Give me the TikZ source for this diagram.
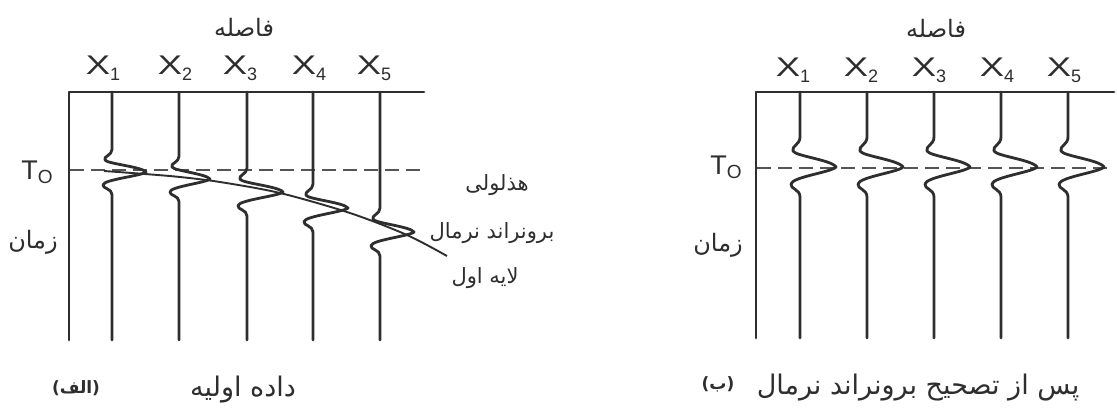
\documentclass[tikz,border=0pt]{standalone}
\usepackage{graphicx}
\usepackage{fontspec}
\setmainfont{Liberation Sans}
\newfontfamily\fa[Script=Arabic]{DejaVu Sans}
\TeXXeTstate=1
\definecolor{ink}{HTML}{2E2E2E}
\definecolor{dashc}{HTML}{555555}
\newcommand\wtrace[6]{% x0, top, bottom, t, amp, vscale
\draw[trace] (#1,#2) -- (#1,#4-30*#6) .. controls (#1,#4-22*#6) and (#1-9,#4-21*#6) .. (#1-7,#4-16*#6)
 .. controls (#1-5,#4-11*#6) and (#1+#5-4,#4-7*#6) .. (#1+#5,#4)
 .. controls (#1+#5-4,#4+5*#6) and (#1-8,#4+10*#6) .. (#1-9,#4+17*#6)
 .. controls (#1-10,#4+22*#6) and (#1,#4+22*#6) .. (#1,#4+30*#6) -- (#1,#3);}
\newcommand\xl[1]{\scalebox{1.35}[1]{\fontsize{27}{27}\selectfont X}\raisebox{-1.2ex}{\fontsize{18}{18}\selectfont #1}}
\newcommand\tlab{\fontsize{27}{27}\selectfont T\raisebox{-0.3ex}{\fontsize{19}{19}\selectfont O}}
\newcommand\fs[1]{\fa\fontsize{#1}{#1}\selectfont}
\begin{document}
\begin{tikzpicture}[x=1pt,y=-1pt,
  trace/.style={draw=ink,line width=2.8pt,line join=round,line cap=round},
  dline/.style={draw=dashc,line width=1.5pt,dash pattern=on 14pt off 7pt},
  hyp/.style={draw=ink,line width=1.9pt},
  lab/.style={inner sep=0pt,text=ink}]
\useasboundingbox (0,0) rectangle (1118,415);
\fill[white] (0,0) rectangle (1118,415);
% ---------- left panel ----------
\draw[dline] (70,170) -- (427,170);
\draw[trace] (69,340) -- (69,92) -- (424,92);
\wtrace{112}{92}{340}{172}{34}{0.75}
\wtrace{179}{92}{340}{179}{31}{0.75}
\wtrace{247}{92}{340}{192}{36}{0.8}
\wtrace{313}{92}{340}{208}{35}{0.8}
\wtrace{380}{92}{340}{232}{34}{0.8}
\draw[hyp] plot[smooth] coordinates {(104,171) (145,174) (180,177) (220,182) (280,193) (350,213) (407,235) (447,256)};
\node[lab] (lx1) at (103,68) {\xl{1}};
\node[lab] (lx2) at (175,68) {\xl{2}};
\node[lab] (lx3) at (240,68) {\xl{3}};
\node[lab] (lx4) at (309,68) {\xl{4}};
\node[lab] (lx5) at (374,68) {\xl{5}};
\node[lab] (ldist) at (244,27) {\fs{24}\beginR فاصله\endR};
\node[lab] (lt0) at (37,172) {\tlab};
\node[lab] (ltime) at (33,242) {\fs{24}\beginR زمان\endR};
\node[lab] (hyp1) at (497,185) {\fs{21}\beginR هذلولی\endR};
\node[lab] (hyp2) at (492,233) {\fs{21}\beginR برونراند نرمال\endR};
\node[lab] (hyp3) at (485,278) {\fs{21}\beginR لایه اول\endR};
\node[lab] (lcap) at (243,390) {\fs{27}\beginR داده اولیه\endR};
\node[lab] (ltag) at (76,388) {\fs{17}\bfseries\beginR (الف)\endR};
% ---------- right panel ----------
\draw[dline] (757,168) -- (1113,168);
\draw[trace] (756,338) -- (756,92) -- (1114,92);
\foreach \xx in {800,867,934,1001,1068}{\wtrace{\xx}{92}{338}{167}{36}{1}}
\node[lab] (rx1) at (793,70) {\xl{1}};
\node[lab] (rx2) at (861,70) {\xl{2}};
\node[lab] (rx3) at (929,70) {\xl{3}};
\node[lab] (rx4) at (997,70) {\xl{4}};
\node[lab] (rx5) at (1064,70) {\xl{5}};
\node[lab] (rdist) at (936,28) {\fs{24}\beginR فاصله\endR};
\node[lab] (rt0) at (726,167) {\tlab};
\node[lab] (rtime) at (718,245) {\fs{24}\beginR زمان\endR};
\node[lab] (rcap) at (918,388) {\fs{27}\beginR پس از تصحیح برونراند نرمال\endR};
\node[lab] (rtag) at (718,384) {\fs{17}\bfseries\beginR (ب)\endR};
\end{tikzpicture}
\end{document}
